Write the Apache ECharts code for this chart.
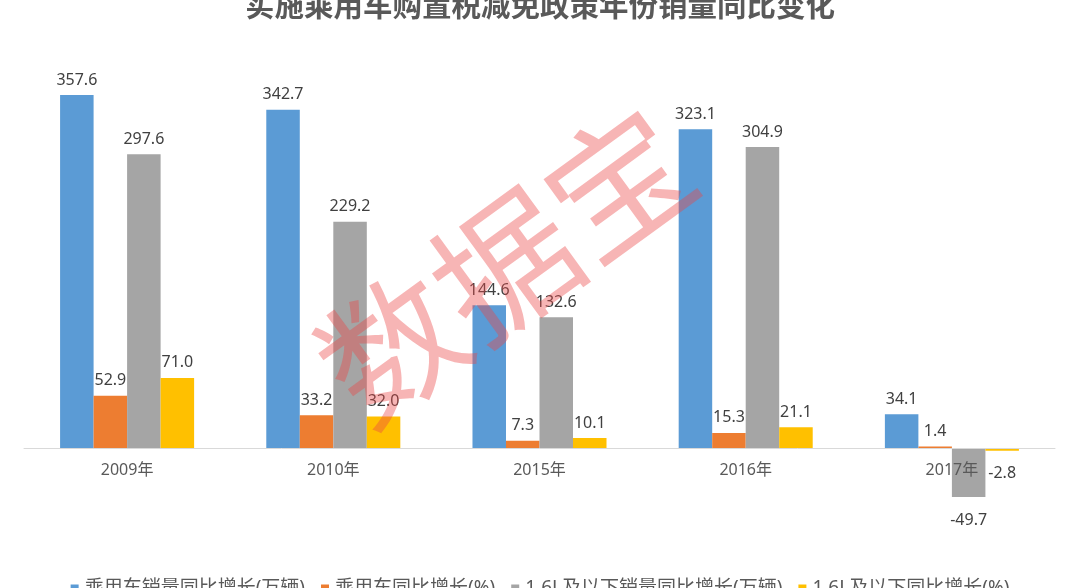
<!DOCTYPE html>
<html>
<head>
<meta charset="utf-8">
<script src="https://cdn.jsdelivr.net/npm/echarts@6/dist/echarts.min.js"></script>
<style>html,body{margin:0;padding:0;background:#fff;}#c{width:1080px;height:588px;}</style>
</head>
<body>
<div id="c"></div>
<script>
const categories = ['2009年', '2010年', '2015年', '2016年', '2017年'];
const seriesNames = ['乘用车销量同比增长(万辆)', '乘用车同比增长(%)', '1.6L及以下销量同比增长(万辆)', '1.6L及以下同比增长(%)'];
const salesGrowth = [357.6, 342.7, 144.6, 323.1, 34.1];
const salesGrowthPct = [52.9, 33.2, 7.3, 15.3, 1.4];
const smallSalesGrowth = [297.6, 229.2, 132.6, 304.9, -49.7];
const smallSalesGrowthPct = [71.0, 32.0, 10.1, 21.1, -2.8];
const colors = ['#5B9BD5', '#ED7D31', '#A5A5A5', '#FFC000'];
const titleText = '实施乘用车购置税减免政策年份销量同比变化';
const watermarkText = '数据宝';

const font = '"Noto Sans", "Noto Sans CJK SC", sans-serif';
const chart = echarts.init(document.getElementById('c'));

function mk(name, values, color) {
  return {
    name: name,
    type: 'bar',
    barGap: '0%',
    barCategoryGap: '35%',
    clip: false,
    itemStyle: { color: color },
    data: values.map(v => ({
      value: v,
      label: {
        show: true,
        position: v < 0 ? 'bottom' : 'top',
        distance: v < 0 ? 15 : 7,
        formatter: p => p.value.toFixed(1),
        color: '#404040',
        fontSize: 16,
        fontFamily: font
      }
    }))
  };
}

chart.setOption({
  backgroundColor: '#fff',
  animation: false,
  color: colors,
  grid: { left: 24, right: 25, top: 73, bottom: 140, containLabel: false },
  xAxis: {
    type: 'category',
    data: categories,
    axisLine: { lineStyle: { color: '#D9D9D9', width: 1 } },
    axisTick: { show: false },
    axisLabel: { color: '#595959', fontSize: 16, fontFamily: font, margin: 14 },
    z: 5
  },
  yAxis: {
    type: 'value',
    min: 0,
    max: 380,
    show: false,
    splitLine: { show: false }
  },
  legend: {
    data: seriesNames,
    top: 574,
    left: 'center',
    itemWidth: 8,
    itemHeight: 8,
    itemGap: 16,
    icon: 'rect',
    textStyle: { color: '#595959', fontSize: 19, fontFamily: font, padding: [0, 0, 0, 1] }
  },
  graphic: [
    {
      type: 'text',
      left: 'center',
      top: -10,
      style: { text: titleText, fill: '#595959', font: 'bold 29.5px "Noto Sans CJK SC", sans-serif' },
      z: 10
    },
    {
      type: 'text',
      x: 505,
      y: 265,
      rotation: Math.PI * 36 / 180,
      style: {
        text: watermarkText,
        fill: 'rgba(235, 70, 70, 0.40)',
        font: '140px "Noto Sans CJK SC", sans-serif',
        align: 'center',
        verticalAlign: 'middle'
      },
      z: 100
    }
  ],
  series: [
    mk(seriesNames[0], salesGrowth, colors[0]),
    mk(seriesNames[1], salesGrowthPct, colors[1]),
    mk(seriesNames[2], smallSalesGrowth, colors[2]),
    mk(seriesNames[3], smallSalesGrowthPct, colors[3])
  ]
});
</script>
</body>
</html>
